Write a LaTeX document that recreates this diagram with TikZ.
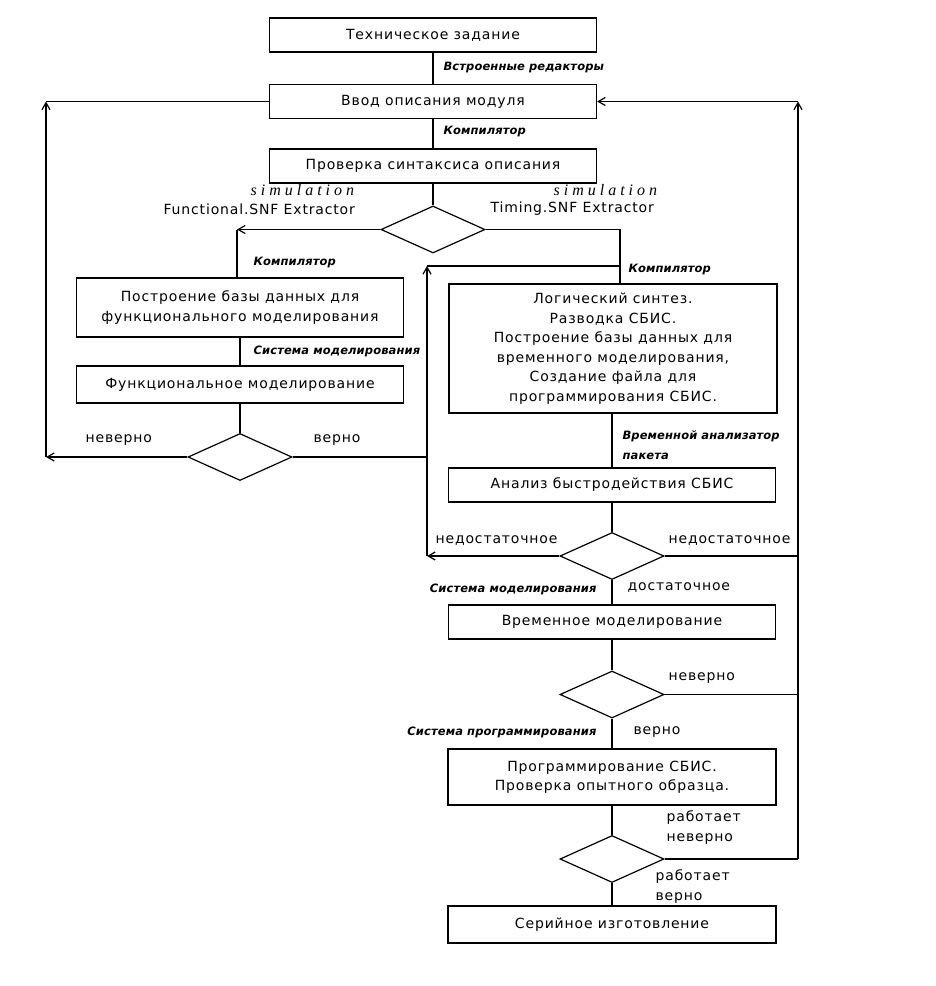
\documentclass[tikz,border=0pt]{standalone}
\usepackage{fontspec}
\setmainfont[LetterSpace=6]{DejaVu Sans}
\newfontfamily\toolfont[LetterSpace=1]{DejaVu Sans}
\newfontfamily\handfont[LetterSpace=25]{Liberation Serif}
\usetikzlibrary{arrows.meta, shapes.geometric, positioning, calc}

\begin{document}
\begin{tikzpicture}[x=1pt, y=-1pt, line width=1.2pt,
    block/.style={draw, minimum width=327pt, minimum height=34pt, align=center, inner sep=2pt, font=\fontsize{14}{19.5}\selectfont},
    decision/.style={draw, diamond, minimum width=104pt, minimum height=47pt, inner sep=0pt},
    tool/.style={anchor=west, inner sep=0pt, align=left, font=\toolfont\bfseries\itshape\fontsize{11.5}{20}\selectfont},
    answer/.style={anchor=west, inner sep=0pt, align=left, font=\fontsize{14}{20}\selectfont},
    hand/.style={anchor=west, inner sep=0pt, font=\handfont\itshape\fontsize{16}{16}\selectfont},
    arr/.style={-{Straight Barb[length=7pt, width=8pt]}}]
    \useasboundingbox (0,0) rectangle (936,986);

    \node[block] (tz) at (433,35) {Техническое задание};
    \node[block] (vvod) at (433,101.5) {Ввод описания модуля};
    \node[block] (sintaks) at (433,166) {Проверка синтаксиса описания};
    \node[decision] (d1) at (433,229.5) {};
    \node[block, minimum height=59pt] (bazaf) at (240,307.5) {Построение базы данных для\\функционального моделирования};
    \node[block, minimum height=37pt] (funcmod) at (240,384.5) {Функциональное моделирование};
    \node[decision] (d2) at (240,457) {};
    \node[block, minimum width=328pt, minimum height=129pt] (sintez) at (613,348.5) {Логический синтез.\\Разводка СБИС.\\Построение базы данных для\\временного моделирования,\\Создание файла для\\программирования СБИС.};
    \node[block] (analiz) at (612,485) {Анализ быстродействия СБИС};
    \node[decision] (d3) at (612,556) {};
    \node[block] (vrmod) at (612,622) {Временное моделирование};
    \node[decision] (d4) at (612,694.5) {};
    \node[block, minimum width=328pt, minimum height=56pt] (progr) at (612,777) {Программирование СБИС.\\Проверка опытного образца.};
    \node[decision] (d5) at (612,859) {};
    \node[block, minimum width=328pt, minimum height=37pt] (serial) at (612,924.5) {Серийное изготовление};

    \foreach \a/\b in {tz/vvod, vvod/sintaks, sintaks/d1, bazaf/funcmod, funcmod/d2,
        analiz/d3, d3/vrmod, vrmod/d4, d4/progr, progr/d5, d5/serial}
      \draw (\a) -- (\b);
    \draw (analiz.north) -- (analiz.north |- sintez.south);

    \coordinate (fl) at (237,229.5);
    \coordinate (fr) at (620,229.5);
    \coordinate (ll) at (46,457);
    \coordinate (lt) at (46,101.5);
    \coordinate (mb) at (427,556);
    \coordinate (mt) at (427,266);
    \coordinate (rb) at (798,859);
    \coordinate (rt) at (798,101.5);

    \draw[arr] (d1.west) -- (fl);
    \draw (fl) -- (fl |- bazaf.north);
    \draw (d1.east) -- (fr) -- (fr |- sintez.north);
    \draw[arr] (d2.west) -- (ll);
    \draw[arr] (ll) -- (lt);
    \draw (lt) -- (vvod.west);
    \draw (d2.east) -- (d2.east -| mb);
    \draw[arr] (d3.west) -- (mb);
    \draw[arr] (mb) -- (mt);
    \draw (mt) -- (mt -| fr);
    \draw (d5.east) -- (rb);
    \draw[arr] (rb) -- (rt);
    \draw[arr] (rt) -- (vvod.east);
    \draw (d3.east) -- (d3.east -| rb);
    \draw (d4.east) -- (d4.east -| rb);

    \node[tool] (t1) at (443,67) {Встроенные редакторы};
    \node[tool] (t2) at (443,131) {Компилятор};
    \node[answer] (fext) at (163,209) {Functional.SNF Extractor};
    \node[hand] (fsim) at (250,190) {simulation};
    \node[answer] (text) at (490,209) {Timing.SNF Extractor};
    \node[hand] (tsim) at (553,190) {simulation};
    \node[tool] (t3) at (253,262) {Компилятор};
    \node[tool] (t4) at (253,351) {Система моделирования};
    \node[answer] (a1) at (85,440) {неверно};
    \node[answer] (a2) at (313,440) {верно};
    \node[tool] (t5) at (628,269) {Компилятор};
    \node[tool] (t6) at (622,445) {Временной анализатор\\пакета};
    \node[answer] (a3) at (435,541) {недостаточное};
    \node[answer] (a4) at (668,541) {недостаточное};
    \node[tool, anchor=east] (t7) at (597,589) {Система моделирования};
    \node[answer] (a5) at (627,588) {достаточное};
    \node[answer] (a6) at (668,678) {неверно};
    \node[tool, anchor=east] (t8) at (597,732) {Система программирования};
    \node[answer] (a7) at (633,732) {верно};
    \node[answer] (a8) at (666,828) {работает\\неверно};
    \node[answer] (a9) at (655,887) {работает\\верно};
\end{tikzpicture}
\end{document}
